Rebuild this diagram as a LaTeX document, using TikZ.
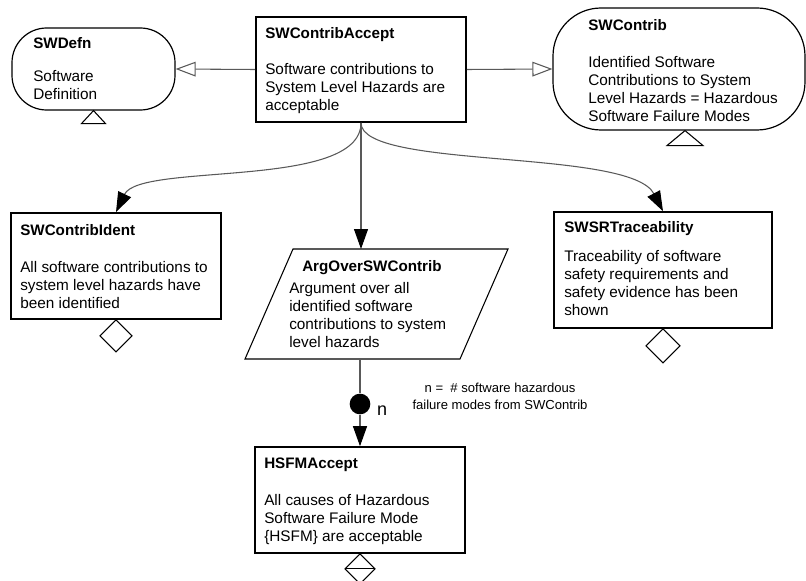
\documentclass[tikz,border=0pt]{standalone}
\usepackage{fontspec}
\setmainfont{Liberation Sans}
\usetikzlibrary{arrows.meta}

% bold heading line of a GSN element
\newcommand{\gsnhead}[1]{{\fontsize{11.4pt}{13.5pt}\selectfont\bfseries #1}}

\begin{document}
\begin{tikzpicture}[x=0.75pt,y=-0.75pt,
  goalbox/.style={draw, line width=1.2pt, inner sep=0pt},
  ctxbox/.style={draw, line width=0.9pt, inner sep=0pt},
  gsntext/.style={anchor=north west, inner sep=0pt, align=left,
                  font=\fontsize{11.5pt}{13.5pt}\selectfont},
  conn/.style={draw=black!65, line width=0.8pt},
  solved/.style={conn, -{Triangle[length=15pt,width=10.5pt,color=black]}},
  incontext/.style={conn, -{Triangle[open,length=15pt,width=11pt]}},
  marker/.style={draw, line width=0.8pt, fill=white},
  argshape/.style={draw, line width=0.8pt}
]
\useasboundingbox (0,0) rectangle (806,581);

% ---- goals
\node[goalbox, minimum width=157.5pt, minimum height=78.75pt] (swca) at (361,69.5) {};
\node[goalbox, minimum width=157.5pt, minimum height=79.5pt]  (swci) at (116,266) {};
\node[goalbox, minimum width=163.5pt, minimum height=87pt]    (swsr) at (663,270) {};
\node[goalbox, minimum width=157.5pt, minimum height=79.5pt]  (hsfm) at (360,500) {};

% ---- contexts
\node[ctxbox, rounded corners=26pt, minimum width=122.25pt, minimum height=61.5pt] (swdefn) at (93.5,69) {};
\node[ctxbox, rounded corners=36pt, minimum width=189pt, minimum height=91.5pt] (swc) at (679,69) {};

% ---- strategy (parallelogram)
\coordinate (argTL) at (293,249);
\coordinate (argTR) at (508,249);
\coordinate (argBR) at (460,359);
\coordinate (argBL) at (245,359);
\coordinate (argT) at (361,249);
\coordinate (argB) at (360,359);
\draw[argshape] (argTL) -- (argTR) -- (argBR) -- (argBL) -- cycle;

% ---- texts
\node[gsntext] (swcaT) at (265,27.5) {\gsnhead{SWContribAccept}\\[13.5pt]Software contributions to\\System Level Hazards are\\acceptable};
\node[gsntext] (swdefnT) at (33,37.5) {\gsnhead{SWDefn}\\[11pt]Software\\Definition};
\node[gsntext] (swcT) at (588,19.5) {\gsnhead{SWContrib}\\[14pt]Identified Software\\Contributions to System\\Level Hazards = Hazardous\\Software Failure Modes};
\node[gsntext] (swciT) at (20,224.5) {\gsnhead{SWContribIdent}\\[14pt]All software contributions to\\system level hazards have\\been identified};
\node[gsntext] (argT0) at (289,260.5) {\hspace*{9.75pt}\gsnhead{ArgOverSWContrib}\\[3pt]Argument over all\\identified software\\contributions to system\\level hazards};
\node[gsntext] (swsrT) at (564,221.5) {\gsnhead{SWSRTraceability}\\[8.25pt]Traceability of software\\safety requirements and\\safety evidence has been\\shown};
\node[gsntext] (hsfmT) at (264,457.5) {\gsnhead{HSFMAccept}\\[14pt]All causes of Hazardous\\Software Failure Mode\\\{HSFM\} are acceptable};

% ---- context links
\draw[incontext] (swca.west) -- (swdefn.east);
\draw[incontext] (swca.east) -- (swc.west);

% ---- supported-by links
\draw[solved] (swca.south) .. controls (361,190) and (140,162) .. (swci.north);
\draw[solved] (swca.south) -- (argT);
\draw[solved] (swca.south) .. controls (361,170) and (630,148) .. (swsr.north);

% ---- multiplicity
\node[circle, fill=black, inner sep=0pt, minimum size=15.5pt] (mult) at (360,404) {};
\node[font=\fontsize{13.5pt}{16pt}\selectfont, inner sep=0pt] (multn) at (382,411) {n};
\draw[conn] (argB) -- (mult);
\draw[solved] (mult) -- (hsfm.north);
\node[align=center, inner sep=0pt, font=\fontsize{9.8pt}{12.75pt}\selectfont] (note) at (500,396) {n =\ \ \# software hazardous\\failure modes from SWContrib};

% ---- context markers (triangles)
\draw[marker] (swdefn.south) -- ++(12,13) -- ++(-24,0) -- cycle;
\draw[marker] ([xshift=4.5pt]swc.south) -- ++(18,15) -- ++(-36,0) -- cycle;

% ---- undeveloped markers (diamonds)
\draw[marker] (swci.south) -- ++(16,16) -- ++(-16,16) -- ++(-16,-16) -- cycle;
\draw[marker] (swsr.south) -- ++(17,17) -- ++(-17,17) -- ++(-17,-17) -- cycle;
\draw[marker] (hsfm.south) -- ++(15,15) -- ++(-15,15) -- ++(-15,-15) -- cycle;
\draw[marker] (hsfm.south) ++(-15,15) -- ++(30,0);
\end{tikzpicture}
\end{document}
